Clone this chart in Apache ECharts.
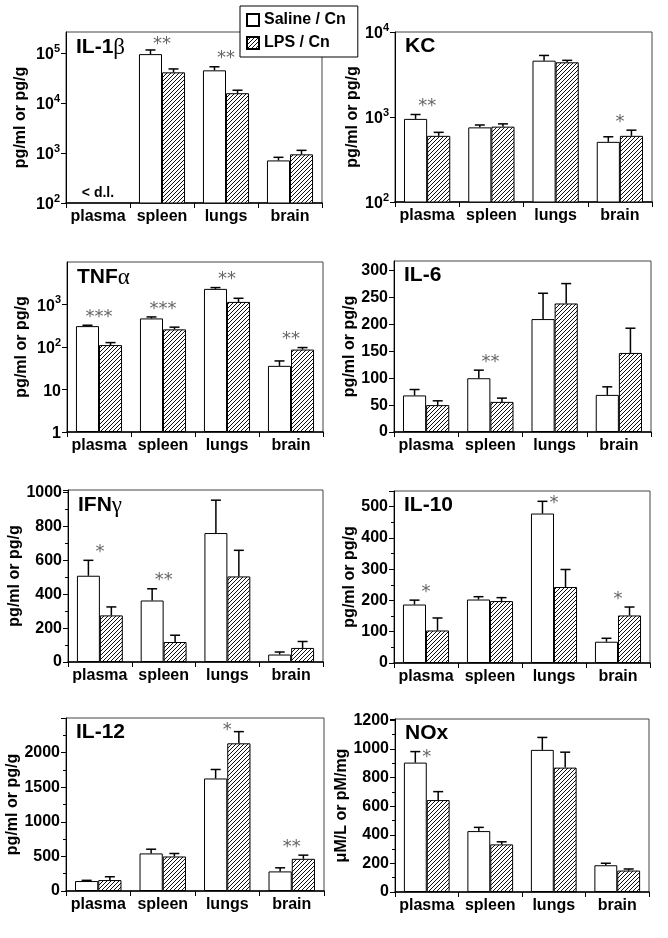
<!DOCTYPE html>
<html><head><meta charset="utf-8">
<script src="https://cdn.jsdelivr.net/npm/echarts@6/dist/echarts.min.js"></script>
<style>html,body{margin:0;padding:0;background:#fff}#c{width:668px;height:938px}</style>
</head><body><div id="c"></div>
<script>
// ---------- DATA ----------
const categories = ['plasma', 'spleen', 'lungs', 'brain'];
const seriesNames = ['Saline / Cn', 'LPS / Cn'];

const il1bSaline = [null, 95000, 45000, 710];
const il1bSalineSem = [null, 20000, 8000, 110];
const il1bLps = [null, 41000, 15700, 940];
const il1bLpsSem = [null, 7000, 2300, 190];
const il1bStars = ['', '**', '**', ''];
const il1bNotes = ['< d.l.', '', '', ''];

const kcSaline = [950, 755, 4600, 510];
const kcSalineSem = [120, 50, 700, 75];
const kcLps = [600, 770, 4400, 600];
const kcLpsSem = [60, 60, 240, 100];
const kcStars = ['**', '', '', '*'];

const tnfSaline = [310, 470, 2330, 36];
const tnfSalineSem = [15, 40, 170, 11];
const tnfLps = [111, 260, 1150, 87];
const tnfLpsSem = [16, 33, 250, 10];
const tnfStars = ['***', '***', '**', '**'];

const il6Saline = [68, 100, 210, 69];
const il6SalineSem = [11, 15, 48, 15];
const il6Lps = [50, 56, 239, 147];
const il6LpsSem = [8, 7, 37, 46];
const il6Stars = ['', '**', '', ''];

const ifngSaline = [509, 363, 761, 44];
const ifngSalineSem = [91, 69, 194, 15];
const ifngLps = [275, 118, 505, 83];
const ifngLpsSem = [50, 40, 154, 38];
const ifngStars = ['*', '**', '', ''];

const il10Saline = [187, 203, 478, 68];
const il10SalineSem = [14, 9, 39, 11];
const il10Lps = [104, 198, 243, 152];
const il10LpsSem = [40, 11, 56, 27];
const il10Stars = ['*', '', '*', '*'];

const il12Saline = [144, 543, 1626, 283];
const il12SalineSem = [10, 61, 130, 52];
const il12Lps = [158, 499, 2134, 465];
const il12LpsSem = [48, 43, 169, 53];
const il12Stars = ['', '', '*', '**'];

const noxSaline = [905, 426, 994, 187];
const noxSalineSem = [77, 26, 87, 14];
const noxLps = [643, 333, 870, 150];
const noxLpsSem = [59, 18, 108, 11];
const noxStars = ['*', '', '', ''];

// ---------- LAYOUT ----------
const FONT = '"Liberation Sans", Arial, Helvetica, sans-serif';
const panels = [
  {title: '{a|IL-1}{g|β}', log: true, min: 100, max: 263000, yName: 'pg/ml or pg/g',
   s: il1bSaline, ss: il1bSalineSem, l: il1bLps, ls: il1bLpsSem, stars: il1bStars, notes: il1bNotes, box: [66, 32, 256, 171], gap: 37},
  {title: '{a|KC}', log: true, min: 100, max: 10000, showMax: true, yName: 'pg/ml or pg/g',
   s: kcSaline, ss: kcSalineSem, l: kcLps, ls: kcLpsSem, stars: kcStars, box: [395, 32, 257, 170], gap: 34},
  {title: '{a|TNF}{g|α}', log: true, min: 1, max: 10000, yName: 'pg/ml or pg/g',
   s: tnfSaline, ss: tnfSalineSem, l: tnfLps, ls: tnfLpsSem, stars: tnfStars, box: [67, 262, 256, 170], gap: 37},
  {title: '{a|IL-6}', min: 0, max: 318, interval: 50, yName: 'pg/ml or pg/g',
   s: il6Saline, ss: il6SalineSem, l: il6Lps, ls: il6LpsSem, stars: il6Stars, box: [394, 261, 257, 171], gap: 34},
  {title: '{a|IFN}{g|γ}', min: 0, max: 1015, interval: 200, minor: true, yName: 'pg/ml or pg/g',
   s: ifngSaline, ss: ifngSalineSem, l: ifngLps, ls: ifngLpsSem, stars: ifngStars, box: [68, 490, 255, 172], gap: 37},
  {title: '{a|IL-10}', min: 0, max: 550, interval: 100, minor: true, yName: 'pg/ml or pg/g',
   s: il10Saline, ss: il10SalineSem, l: il10Lps, ls: il10LpsSem, stars: il10Stars, box: [394, 491, 256, 172], gap: 34},
  {title: '{a|IL-12}', min: 0, max: 2500, interval: 500, minor: true, yName: 'pg/ml or pg/g',
   s: il12Saline, ss: il12SalineSem, l: il12Lps, ls: il12LpsSem, stars: il12Stars, box: [66, 718, 258, 173], gap: 37},
  {title: '{a|NOx}', min: 0, max: 1210, interval: 200, minor: true, yName: 'μM/L or pM/mg',
   s: noxSaline, ss: noxSalineSem, l: noxLps, ls: noxLpsSem, stars: noxStars, box: [395, 719, 254, 173], gap: 34}
];

function makeHatch() {
  const c = document.createElement('canvas');
  c.width = 4; c.height = 4;
  const ctx = c.getContext('2d');
  ctx.fillStyle = '#fff'; ctx.fillRect(0, 0, 4, 4);
  ctx.strokeStyle = '#111'; ctx.lineWidth = 1;
  ctx.beginPath();
  ctx.moveTo(-1, 5); ctx.lineTo(5, -1);
  ctx.moveTo(-1, 1); ctx.lineTo(1, -1);
  ctx.moveTo(3, 5); ctx.lineTo(5, 3);
  ctx.stroke();
  return c;
}
const hatch = {image: makeHatch(), repeat: 'repeat'};
const BAR_FRAC = 0.36;

function logLabel(v) {
  const e = Math.log10(v);
  const r = Math.round(e);
  if (Math.abs(e - r) > 1e-6) return '';
  if (r <= 1) return '{b|' + Math.round(v) + '}';
  return '{b|10}{s|' + r + '}';
}

const grids = [], xAxes = [], yAxes = [], series = [], graphics = [];
panels.forEach((p, i) => {
  const [gl, gt, gw, gh] = p.box;
  grids.push({left: gl, top: gt, width: gw, height: gh, show: true, borderColor: '#444', borderWidth: 1, backgroundColor: 'transparent', containLabel: false});
  xAxes.push({
    type: 'category', gridIndex: i, data: categories,
    axisLine: {lineStyle: {color: '#000', width: 1.5}},
    axisTick: {show: true, length: 5, lineStyle: {color: '#000', width: 1}},
    axisLabel: {color: '#000', fontFamily: FONT, fontWeight: 'bold', fontSize: 16, margin: 6, interval: 0}
  });
  const y = {
    gridIndex: i, name: p.yName, nameLocation: 'middle', nameGap: p.gap,
    nameTextStyle: {color: '#000', fontFamily: FONT, fontWeight: 'bold', fontSize: 16},
    min: p.min, max: p.max,
    axisLine: {show: true, lineStyle: {color: '#000', width: 1}},
    axisTick: {show: true, length: 5, lineStyle: {color: '#000'}},
    splitLine: {show: false},
    axisLabel: {color: '#000', fontFamily: FONT, fontWeight: 'bold', fontSize: 16, margin: 6, showMaxLabel: !!p.showMax}
  };
  if (p.log) {
    y.type = 'log'; y.logBase = 10;
    y.axisLabel.formatter = logLabel;
    y.axisLabel.rich = {
      b: {fontFamily: FONT, fontWeight: 'bold', fontSize: 16, color: '#000', lineHeight: 20, verticalAlign: 'bottom'},
      s: {fontFamily: FONT, fontWeight: 'bold', fontSize: 11, color: '#000', lineHeight: 20, verticalAlign: 'top', padding: [0, 0, 4, 0]}
    };
  } else {
    y.type = 'value'; y.interval = p.interval;
    y.axisLabel.formatter = v => String(v);
    if (p.minor) y.minorTick = {show: true, splitNumber: 2, length: 3, lineStyle: {color: '#000'}};
  }
  yAxes.push(y);

  series.push({
    type: 'bar', name: seriesNames[0], xAxisIndex: i, yAxisIndex: i, data: p.s,
    barWidth: (BAR_FRAC * 100) + '%', barGap: '0%', silent: true,
    itemStyle: {color: '#fff', borderColor: '#000', borderWidth: 1}
  });
  series.push({
    type: 'bar', name: seriesNames[1], xAxisIndex: i, yAxisIndex: i, data: p.l,
    barWidth: (BAR_FRAC * 100) + '%', barGap: '0%', silent: true,
    itemStyle: {color: hatch, borderColor: '#000', borderWidth: 1}
  });

  // error bars
  const errData = [];
  [[p.s, p.ss], [p.l, p.ls]].forEach((pair, g) => {
    pair[0].forEach((v, j) => { if (v != null) errData.push([j, v, pair[1][j], g]); });
  });
  series.push({
    type: 'custom', name: 'err' + i, xAxisIndex: i, yAxisIndex: i, silent: true, z: 5,
    encode: {x: 0, y: 1}, data: errData,
    renderItem: (params, api) => {
      const j = api.value(0), v = api.value(1), e = api.value(2), g = api.value(3);
      const bw = api.size([1, 1])[0] * BAR_FRAC;
      const base = api.coord([j, v]);
      const top = api.coord([j, v + e]);
      const x = base[0] + (g === 0 ? -bw / 2 : bw / 2);
      const st = {stroke: '#000', lineWidth: 1.5};
      return {type: 'group', children: [
        {type: 'line', shape: {x1: x, y1: base[1], x2: x, y2: top[1]}, style: st},
        {type: 'line', shape: {x1: x - 5, y1: top[1], x2: x + 5, y2: top[1]}, style: st}
      ]};
    }
  });

  // significance stars
  const starData = [], starText = [];
  p.stars.forEach((t, j) => {
    if (!t) return;
    const top = Math.max(p.s[j] + p.ss[j], p.l[j] + p.ls[j]);
    starData.push([j, top]); starText.push(t);
  });
  series.push({
    type: 'custom', name: 'stars' + i, xAxisIndex: i, yAxisIndex: i, silent: true, z: 6,
    encode: {x: 0, y: 1}, data: starData,
    renderItem: (params, api) => {
      const pt = api.coord([api.value(0), api.value(1)]);
      let yy = Math.max(pt[1] - 8, gt + 12);
      if (pt[0] < gl + 75) yy = Math.max(yy, gt + 38);
      return {type: 'text', style: {x: pt[0], y: yy, text: starText[params.dataIndex],
        fill: '#666', font: '18px "DejaVu Sans", sans-serif', textAlign: 'center', textVerticalAlign: 'middle'}};
    }
  });

  if (p.notes) {
    const noteData = [], noteText = [];
    p.notes.forEach((t, j) => { if (t) { noteData.push([j, p.min]); noteText.push(t); } });
    series.push({
      type: 'custom', name: 'notes' + i, xAxisIndex: i, yAxisIndex: i, silent: true, z: 6,
      encode: {x: 0, y: 1}, data: noteData,
      renderItem: (params, api) => {
        const pt = api.coord([api.value(0), api.value(1)]);
        return {type: 'text', style: {x: pt[0], y: pt[1] - 10, text: noteText[params.dataIndex],
          fill: '#000', font: 'bold 14px ' + FONT, textAlign: 'center', textVerticalAlign: 'middle'}};
      }
    });
  }

  graphics.push({
    type: 'text', left: gl + 10, top: gt + 4, z: 10, silent: true,
    style: {text: p.title, rich: {
      a: {fontFamily: FONT, fontWeight: 'bold', fontSize: 21, fill: '#000'},
      g: {fontFamily: '"Liberation Serif", "DejaVu Serif", serif', fontSize: 23, fill: '#000'}
    }}
  });
});

const chart = echarts.init(document.getElementById('c'), null, {renderer: 'canvas'});
chart.setOption({
  animation: false,
  backgroundColor: '#fff',
  grid: grids, xAxis: xAxes, yAxis: yAxes, series: series, graphic: graphics,
  legend: {
    data: seriesNames, left: 240, top: 6, orient: 'vertical',
    backgroundColor: '#fff', borderColor: '#000', borderWidth: 1,
    padding: [6, 12, 6, 6], itemGap: 7, itemWidth: 12, itemHeight: 12, icon: 'rect',
    selectedMode: false, z: 20,
    textStyle: {fontFamily: FONT, fontWeight: 'bold', fontSize: 16, color: '#000'}
  }
});
</script>
</body></html>
